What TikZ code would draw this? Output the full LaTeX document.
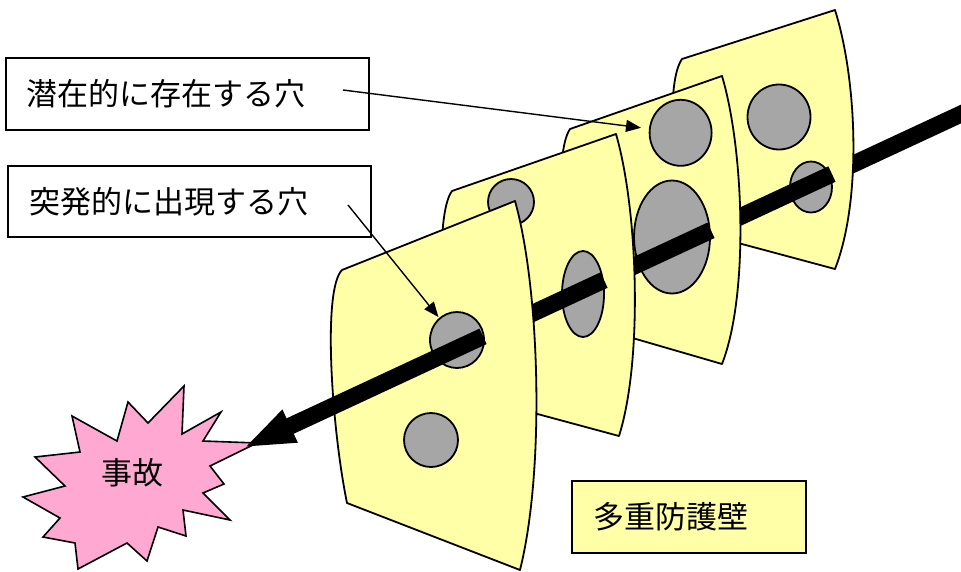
\documentclass[tikz,border=0pt]{standalone}
\usepackage{fontspec}
\newfontfamily\jp{Noto Sans CJK JP}
\usetikzlibrary{calc,arrows.meta,shapes.geometric}
\definecolor{cheese}{HTML}{FFFFA8}
\definecolor{holegray}{HTML}{A6A6A6}
\definecolor{blast}{HTML}{FFA8D2}
\begin{document}
\begin{tikzpicture}[x=1pt,y=-1pt,
  slab/.style={draw=black, line width=1.8pt, fill=cheese, line join=round},
  hole/.style={ellipse, draw=black, line width=1.8pt, fill=holegray, inner sep=0pt},
  beam/.style={line width=17pt, black},
  jptext/.style={font=\jp\fontsize{31}{37}\selectfont},
  labelbox/.style={jptext, draw=black, line width=2pt, fill=white, inner ysep=0pt, align=left},
  pointer/.style={line width=1.4pt, -{Triangle[length=15pt,width=12pt]}}]

\useasboundingbox (0,0) rectangle (961,571);

% hazard trajectory end points
\coordinate (p0) at (975,107.5);
\coordinate (tip) at (243,448);

% accident burst
\draw[fill=blast, line width=1.6pt, line join=miter]
  (184,386) -- (182,434) -- (221,412) -- (203,441) -- (257,443) -- (210,466)
  -- (224,484) -- (203,493) -- (230,520) -- (183,510) -- (186,536) -- (158,527)
  -- (147,561) -- (127,543) -- (78,569) -- (75,543) -- (43,537) -- (60,518)
  -- (23,497) -- (65,486) -- (35,457) -- (80,452) -- (72,416) -- (117,441)
  -- (128,402) -- (148,423) -- cycle;
\node[jptext] (acc) at (132,473) {事故};

% trajectory behind the last barrier
\draw[beam] (p0) -- ($(p0)!0.1844!(tip)$);

% barrier 4 (farthest)
\draw[slab] (682,59) -- (835,10) .. controls (857,80) and (862,200) .. (835,269)
  -- (686,229) .. controls (672,170) and (666,82) .. cycle;
\node[hole, minimum width=63pt, minimum height=65pt] (h4a) at (779,117) {};
\node[hole, minimum width=42pt, minimum height=51pt] (h4b) at (811,187) {};
\draw[beam] ($(p0)!0.1954!(tip)$) -- ($(p0)!0.3484!(tip)$);

% barrier 3
\draw[slab] (570,129) -- (722,76) .. controls (744,150) and (749,295) .. (722,364)
  -- (574,321) .. controls (560,262) and (554,152) .. cycle;
\node[hole, minimum width=62pt, minimum height=66pt] (h3a) at (680.6,132.8) {};
\node[hole, minimum width=76pt, minimum height=113pt] (h3b) at (672,237) {};
\draw[beam] ($(p0)!0.3607!(tip)$) -- ($(p0)!0.4918!(tip)$);

% barrier 2
\draw[slab] (452,191) -- (616,134) .. controls (638,210) and (643,360) .. (619,436)
  -- (456,392) .. controls (442,340) and (434,215) .. cycle;
\node[hole, minimum width=46pt, minimum height=46pt] (h2a) at (511,202) {};
\node[hole, minimum width=42pt, minimum height=86pt] (h2b) at (583,294) {};
\draw[beam] ($(p0)!0.5068!(tip)$) -- ($(p0)!0.6216!(tip)$);

% barrier 1 (nearest)
\draw[slab] (342,270) -- (515,201) .. controls (540,290) and (545,470) .. (520,570)
  -- (347,503) .. controls (332,430) and (322,290) .. cycle;
\node[hole, minimum width=54pt, minimum height=56pt] (h1a) at (457,340) {};
\node[hole, minimum width=54pt, minimum height=54pt] (h1b) at (431,440) {};
\draw[beam, -{Triangle[length=52pt,width=32pt]}] ($(p0)!0.6721!(tip)$) -- (tip);

% labels
\node[labelbox, minimum width=363pt, minimum height=72pt, text width=323pt, inner xsep=20pt]
  (b1) at (187.5,94) {潜在的に存在する穴};
\node[labelbox, minimum width=363pt, minimum height=71pt, text width=321pt, inner xsep=21pt]
  (b2) at (189.5,201.5) {突発的に出現する穴};
\node[labelbox, fill=cheese, minimum width=234pt, minimum height=72pt, text width=192pt, inner xsep=21pt]
  (b3) at (689,517) {多重防護壁};

% pointers to the holes
\coordinate (c1) at (343,90);
\coordinate (c2) at (348,205);
\draw[pointer, shorten >=8pt] (c1) -- (h3a);
\draw[pointer, shorten >=1pt] (c2) -- (h1a);
\end{tikzpicture}
\end{document}
